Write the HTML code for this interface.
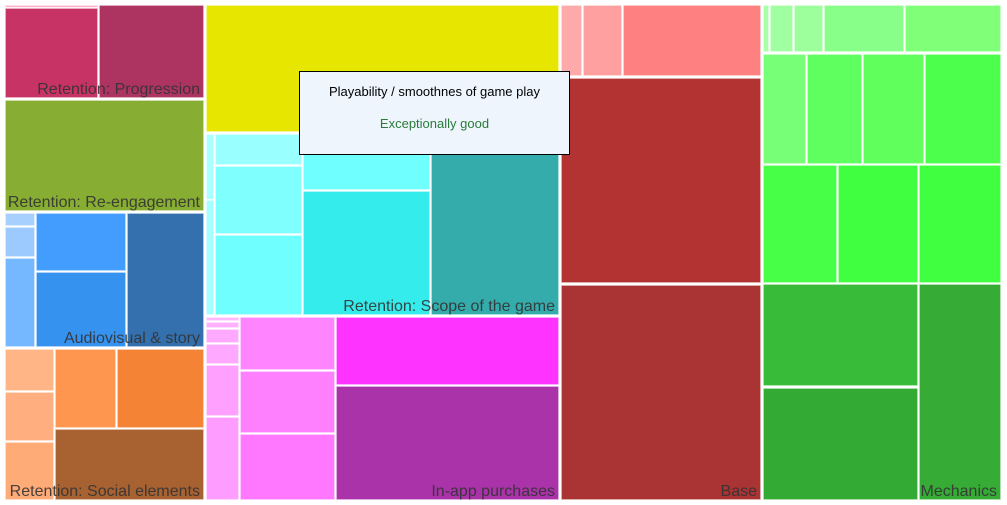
<!DOCTYPE html>
<html><head><meta charset="utf-8"><style>
body{margin:0;background:#fff;width:1007px;height:505px;overflow:hidden;font-family:"Liberation Sans",sans-serif}
svg{display:block}
.lbl{font-size:16px;fill:#333;fill-opacity:.9;text-anchor:end}
</style></head><body>
<svg id="tm" width="1007" height="505"></svg>
<div style="position:absolute;left:299px;top:71px;width:269px;height:82px;background:#eef5fd;border:1px solid #000;">
<div style="position:absolute;top:12px;width:100%;text-align:center;font-size:13px;color:#000">Playability / smoothnes of game play</div>
<div style="position:absolute;top:44px;width:100%;text-align:center;font-size:13px;color:#2a7a3a">Exceptionally good</div>
</div>
<script>
const groups=["Retention: Progression","Retention: Re-engagement","Audiovisual & story","Retention: Social elements","Retention: Scope of the game","In-app purchases","Base","Mechanics"];
const groupBounds=[[5,5,204,98],[5,100,204,211],[5,213,204,347],[5,349,204,500],[206,134,559,315],[206,317,559,500],[561,5,761,500],[763,5,1001,500]];
const leaves=[
[5,5,98,8,"#ffb0c8"],[5,8,98,98,"#c83366"],[99,5,204,98,"#ad3461"],
[5,100,204,211,"#87ad33"],
[5,213,35,226,"#a8d0ff"],[5,227,35,257,"#9ccaff"],[5,258,35,347,"#75b8ff"],[36,213,126,271,"#429dff"],[36,272,126,347,"#3692ef"],[127,213,204,347,"#3470ad"],
[5,349,54,391,"#ffb585"],[5,392,54,441,"#ffaf7f"],[5,442,54,500,"#ffab78"],[55,349,116,428,"#ff9650"],[117,349,204,428,"#f58336"],[55,429,204,500,"#a86231"],
[206,5,559,132,"#e6e600"],
[206,134,214,200,"#aaffff"],[206,200,214,315,"#a4ffff"],[215,134,302,165,"#99ffff"],[215,166,302,234,"#80ffff"],[215,235,302,315,"#70ffff"],[303,134,430,190,"#6fffff"],[303,191,430,315,"#35ecec"],[431,134,559,315,"#34acac"],
[206,317,239,321,"#ffb8ff"],[206,322,239,328,"#ffb0ff"],[206,329,239,343,"#ffaaff"],[206,344,239,364,"#ffa8ff"],[206,365,239,416,"#ffa0ff"],[206,417,239,500,"#ff9cff"],
[240,317,335,370,"#ff84ff"],[240,371,335,433,"#ff80ff"],[240,434,335,500,"#ff78ff"],[336,317,559,385,"#ff33ff"],[336,386,559,500,"#aa33aa"],
[561,5,582,76,"#ffaaaa"],[583,5,622,76,"#ffa0a0"],[623,5,761,76,"#ff8080"],[561,78,761,283,"#b33333"],[561,285,761,500,"#aa3333"],
[763,5,769,52,"#a8ffa8"],[770,5,793,52,"#a0ffa0"],[794,5,823,52,"#9cff9c"],[824,5,904,52,"#88ff88"],[905,5,1001,52,"#80ff78"],
[763,54,806,164,"#78ff78"],[807,54,862,164,"#60ff60"],[863,54,924,164,"#60ff5c"],[925,54,1001,164,"#4cff4c"],
[763,165,837,283,"#48ff48"],[838,165,918,283,"#40ff40"],[919,165,1001,283,"#40ff40"],
[763,284,918,386,"#38bb38"],[763,388,918,500,"#33aa33"],[919,284,1001,500,"#36ac36"]
];
const NS="http://www.w3.org/2000/svg",svg=document.getElementById('tm');
leaves.forEach((d,i)=>{const r=document.createElementNS(NS,'rect');
r.setAttribute('x',d[0]);r.setAttribute('y',d[1]);r.setAttribute('width',d[2]-d[0]);r.setAttribute('height',d[3]-d[1]);
r.setAttribute('fill',d[4]);r.setAttribute('stroke','#fff');r.setAttribute('stroke-opacity','0.8');r.setAttribute('stroke-width','1.5');


svg.appendChild(r);});
groups.forEach((g,i)=>{const b=groupBounds[i];const t=document.createElementNS(NS,'text');
t.setAttribute('x',b[2]-4);t.setAttribute('y',b[3]-4);t.setAttribute('class','lbl');t.textContent=g;


svg.appendChild(t);});
</script>
</body></html>
